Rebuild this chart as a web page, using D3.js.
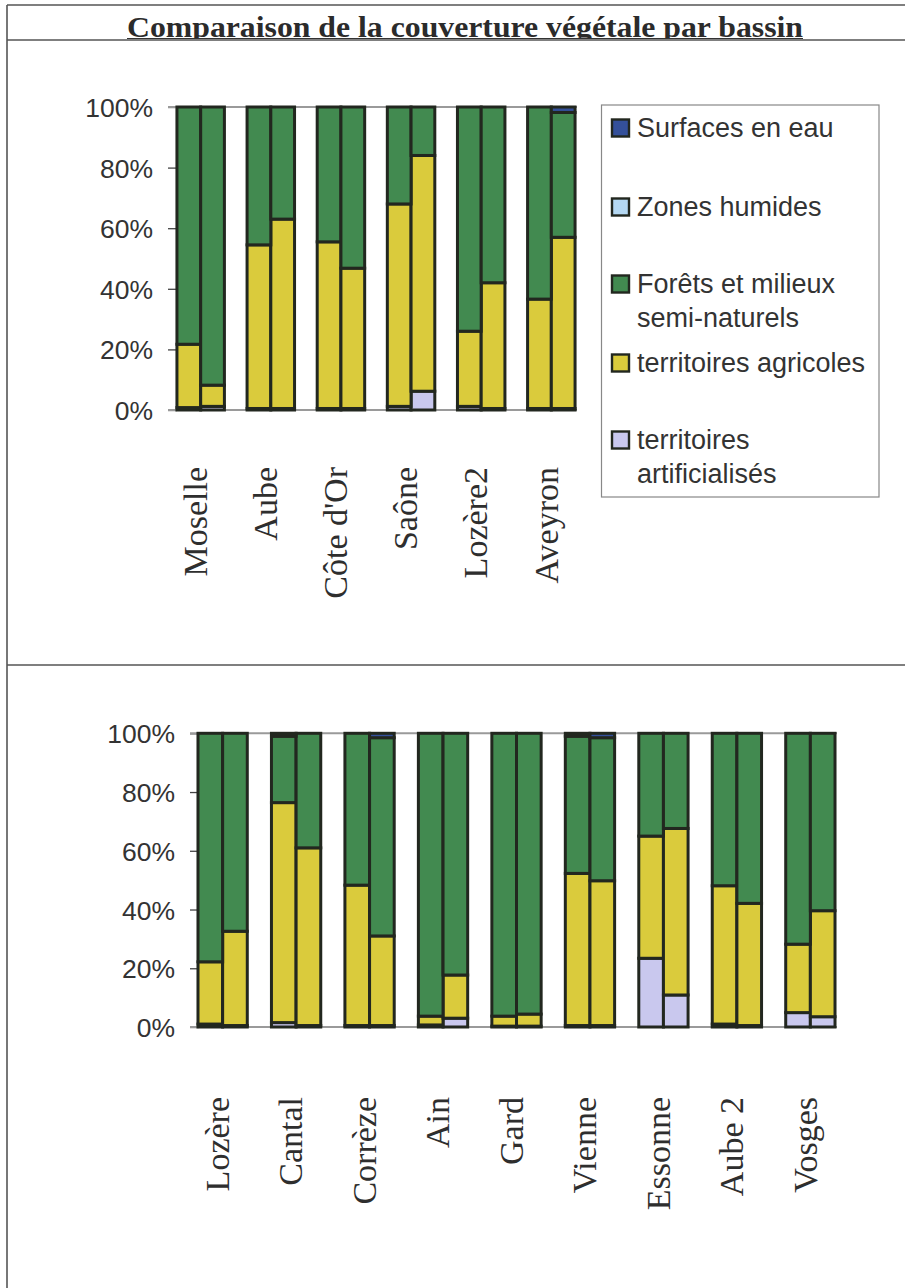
<!DOCTYPE html>
<html><head><meta charset="utf-8">
<script src="https://cdn.jsdelivr.net/npm/d3@7"></script>
<style>body{margin:0;background:#fff}svg{display:block}</style>
</head><body>
<svg id="c" width="905" height="1288"></svg>
<script>
// ---------- data ----------
const titleText = "Comparaison de la couverture végétale par bassin";
const seriesKeys = ["art", "agri", "forest", "wet", "water"]; // bottom -> top
const seriesColors = ["#c9c8ee", "#dacb3c", "#428a50", "#b4d8f2", "#34509a"];
const legendKeys = ["water", "wet", "forest", "agri", "art"];
const legendLabels = [["Surfaces en eau"], ["Zones humides"], ["Forêts et milieux", "semi-naturels"], ["territoires agricoles"], ["territoires", "artificialisés"]];
const tickValues = [0, 0.2, 0.4, 0.6, 0.8, 1];

// top chart: each entry = [bar 1, bar 2] (percent)
const topCategories = ["Moselle", "Aube", "Côte d'Or", "Saône", "Lozère2", "Aveyron"];
const topArtificial  = [[0.8, 1.2], [0.5, 0.5], [0.5, 0.5], [1.2, 6.2], [1.2, 0.5], [0.5, 0.5]];
const topAgricultural= [[20.9, 7.0], [54.0, 62.5], [55.0, 46.3], [66.8, 77.8], [24.8, 41.5], [36.1, 56.5]];
const topForest      = [[78.3, 91.8], [45.5, 37.0], [44.5, 53.2], [32.0, 16.0], [74.0, 58.0], [63.4, 41.2]];
const topWetland     = [[0, 0], [0, 0], [0, 0], [0, 0], [0, 0], [0, 0]];
const topWater       = [[0, 0], [0, 0], [0, 0], [0, 0], [0, 0], [0, 1.8]];

// bottom chart
const botCategories = ["Lozère", "Cantal", "Corrèze", "Ain", "Gard", "Vienne", "Essonne", "Aube 2", "Vosges"];
const botArtificial  = [[1.0, 0.5], [1.5, 0.5], [0.5, 0.5], [0.7, 3.0], [0.3, 0.3], [0.5, 0.5], [23.4, 10.9], [1.0, 0.5], [4.9, 3.5]];
const botAgricultural= [[21.2, 32.1], [74.9, 60.5], [47.8, 30.5], [3.0, 14.7], [3.4, 4.1], [51.8, 49.3], [41.6, 56.7], [47.1, 41.6], [23.3, 36.1]];
const botForest      = [[77.8, 67.4], [22.6, 39.0], [51.7, 67.5], [96.3, 82.3], [96.3, 95.6], [46.7, 48.7], [35.0, 32.4], [51.9, 57.9], [71.8, 60.4]];
const botWetland     = [[0, 0], [0, 0], [0, 0], [0, 0], [0, 0], [0, 0], [0, 0], [0, 0], [0, 0]];
const botWater       = [[0, 0], [1.0, 0], [0, 1.5], [0, 0], [0, 0], [1.0, 1.5], [0, 0], [0, 0], [0, 0]];

// ---------- drawing ----------
const svg = d3.select("#c");
const ink = "#22271f";
const color = d3.scaleOrdinal().domain(seriesKeys).range(seriesColors);

// frame
const frame = svg.append("g").attr("stroke", "#555").attr("stroke-width", 1.6).attr("fill", "none");
frame.append("line").attr("x1", 7).attr("x2", 905).attr("y1", 5).attr("y2", 5);
frame.append("line").attr("x1", 7).attr("x2", 905).attr("y1", 40).attr("y2", 40);
frame.append("line").attr("x1", 7).attr("x2", 905).attr("y1", 665).attr("y2", 665);
frame.append("line").attr("x1", 7).attr("x2", 7).attr("y1", 5).attr("y2", 1288);

// title (clipped by the row line)
svg.append("clipPath").attr("id", "tclip").append("rect").attr("x", 0).attr("y", 6).attr("width", 905).attr("height", 33);
svg.append("text").attr("clip-path", "url(#tclip)")
  .attr("x", 127).attr("y", 37)
  .attr("textLength", 676).attr("lengthAdjust", "spacingAndGlyphs")
  .style("font-family", "'Liberation Serif','Times New Roman',serif")
  .style("font-weight", "bold").style("font-size", "30px").attr("fill", "#2b2b2b")
  .text(titleText);
svg.append("line").attr("x1", 127).attr("x2", 803).attr("y1", 38.5).attr("y2", 38.5)
  .attr("stroke", "#333").attr("stroke-width", 1.2);

function buildRows(cats, art, agri, forest, wet, water) {
  const rows = [];
  cats.forEach((c, i) => {
    [0, 1].forEach(j => rows.push({cat: c, j: j, art: art[i][j], agri: agri[i][j], forest: forest[i][j], wet: wet[i][j], water: water[i][j]}));
  });
  return rows;
}

function drawChart(cfg) {
  const rows = buildRows(cfg.cats, cfg.art, cfg.agri, cfg.forest, cfg.wet, cfg.water);
  const x = d3.scaleBand().domain(cfg.cats).range(cfg.xRange).paddingInner(cfg.pi).paddingOuter(cfg.po);
  const xs = d3.scaleBand().domain([0, 1]).range([0, x.bandwidth()]).padding(0);
  const y = d3.scaleLinear().domain([0, 1]).range([cfg.y0, cfg.y1]);
  const g = svg.append("g");

  // y axis ticks + labels
  const axis = d3.axisLeft(y).tickValues(tickValues).tickFormat(d3.format(".0%"))
    .tickSizeInner(-9).tickSizeOuter(0).tickPadding(15);
  const ag = g.append("g").attr("transform", `translate(${cfg.plotLeft},0)`).call(axis);
  ag.select(".domain").remove();
  ag.selectAll(".tick line").attr("stroke", "#444").attr("stroke-width", 1.3);
  ag.selectAll(".tick text").attr("fill", "#333").attr("dy", "0.36em")
    .style("font-family", "'Liberation Sans',Arial,sans-serif").style("font-size", "26.5px");

  // grid lines at 100% and 0%
  [0, 1].forEach(v => g.append("line").attr("x1", cfg.plotLeft).attr("x2", cfg.plotRight)
    .attr("y1", y(v)).attr("y2", y(v)).attr("stroke", "#9a9a9a").attr("stroke-width", 2));

  const stack = d3.stack().keys(seriesKeys).offset(d3.stackOffsetExpand);
  const series = stack(rows);
  series.forEach(s => {
    g.append("g").selectAll("rect")
      .data(s.filter(d => d.data[s.key] > 0))
      .join("rect")
      .attr("x", d => x(d.data.cat) + xs(d.data.j))
      .attr("width", xs.bandwidth())
      .attr("y", d => y(d[1]))
      .attr("height", d => y(d[0]) - y(d[1]))
      .attr("fill", color(s.key))
      .attr("stroke", ink).attr("stroke-width", 3);
  });

  // category labels
  g.append("g").selectAll("text").data(cfg.cats).join("text")
    .attr("transform", d => `translate(${x(d) + x.bandwidth() / 2 - 5},${cfg.labelY}) rotate(-90)`)
    .attr("text-anchor", "end").attr("dy", "0.33em")
    .attr("fill", "#2e2e2e")
    .style("font-family", "'Liberation Serif','Times New Roman',serif").style("font-size", "34px")
    .text(d => d);
}

drawChart({cats: topCategories, art: topArtificial, agri: topAgricultural, forest: topForest, wet: topWetland, water: topWater,
  xRange: [165.6, 586.4], pi: 0.323, po: 0.1617, y0: 410, y1: 107, plotLeft: 168, plotRight: 577, labelY: 467});
drawChart({cats: botCategories, art: botArtificial, agri: botAgricultural, forest: botForest, wet: botWetland, water: botWater,
  xRange: [185.9, 847.1], pi: 0.329, po: 0.1645, y0: 1027, y1: 733.3, plotLeft: 190, plotRight: 837, labelY: 1097});

// legend
const lg = svg.append("g");
lg.append("rect").attr("x", 601.5).attr("y", 105).attr("width", 277.5).attr("height", 392)
  .attr("fill", "#fff").attr("stroke", "#888").attr("stroke-width", 1.2);
const legendBaselines = [136.5, 215.5, 292.5, 371.5, 448.5];
legendKeys.forEach((k, i) => {
  const by = legendBaselines[i];
  lg.append("rect").attr("x", 612).attr("y", by - 17).attr("width", 17).attr("height", 17)
    .attr("fill", color(k)).attr("stroke", ink).attr("stroke-width", 2.4);
  const t = lg.append("text").attr("x", 637).attr("y", by).attr("fill", "#333")
    .style("font-family", "'Liberation Sans',Arial,sans-serif").style("font-size", "27px");
  legendLabels[i].forEach((line, li) => t.append("tspan").attr("x", 637).attr("dy", li === 0 ? 0 : 34.5).text(line));
});
</script>
</body></html>
